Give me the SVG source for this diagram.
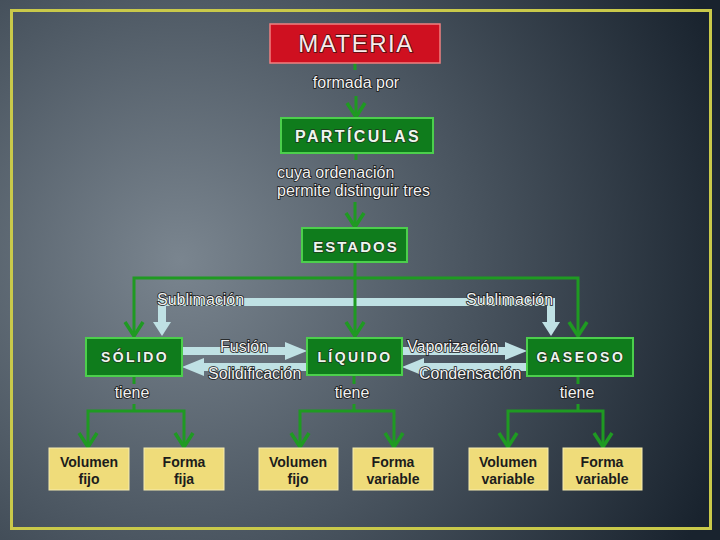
<svg xmlns="http://www.w3.org/2000/svg" width="720" height="540" viewBox="0 0 720 540">
  <defs>
    <radialGradient id="bg" gradientUnits="userSpaceOnUse" cx="180" cy="260" r="580">
      <stop offset="0" stop-color="#7a858f"/>
      <stop offset="0.5" stop-color="#4a5560"/>
      <stop offset="1" stop-color="#19232e"/>
    </radialGradient>
    <marker id="gv" markerUnits="userSpaceOnUse" viewBox="-17 -12 20 24" markerWidth="20" markerHeight="24" refX="0" refY="0" orient="auto-start-reverse">
      <path d="M-14,-9 L0,0 L-14,9" fill="none" stroke="#1f9a22" stroke-width="3.5" stroke-linejoin="miter"/>
    </marker>
    <marker id="lh" markerUnits="userSpaceOnUse" viewBox="0 -10 24 20" markerWidth="24" markerHeight="20" refX="0" refY="0" orient="auto-start-reverse">
      <path d="M0,-9 L22,0 L0,9 z" fill="#bfe1e4"/>
    </marker>
    <marker id="lv" markerUnits="userSpaceOnUse" viewBox="0 -10 16 20" markerWidth="16" markerHeight="20" refX="0" refY="0" orient="auto-start-reverse">
      <path d="M0,-9 L14,0 L0,9 z" fill="#bfe1e4"/>
    </marker>
    <style>
      .gbox { fill: #0f7c1c; stroke: #4ccf4c; stroke-width: 2; }
      .ybox { fill: #efdc7a; stroke: #f6ecb0; stroke-width: 1; }
      .title { font-family: "Liberation Sans", Arial, sans-serif; font-weight: bold; fill: #eef6ee; stroke: #1e3a1e; stroke-width: 1.6; paint-order: stroke fill; text-anchor: middle; }
      .lbl { font-family: "Liberation Sans", Arial, sans-serif; font-size: 16px; fill: #f2f2f2; stroke: #161616; stroke-width: 1.6; paint-order: stroke fill; }
      .ytxt { font-family: "Liberation Sans", Arial, sans-serif; font-weight: bold; font-size: 14px; fill: #1c1c1c; text-anchor: middle; }
      .gl { fill: none; stroke: #1f9a22; stroke-width: 3; }
      .ga { fill: none; stroke: #1f9a22; stroke-width: 3; marker-end: url(#gv); }
      .lb { fill: none; stroke: #bfe1e4; stroke-width: 8; }
    </style>
  </defs>

  <rect x="0" y="0" width="720" height="540" fill="url(#bg)"/>
  <rect x="11.5" y="10.5" width="699" height="518" fill="none" stroke="#c9c94a" stroke-width="3"/>

  <!-- light process arrows -->
  <g id="processes">
    <path class="lb" d="M162,322 L162,302 L551,302 L551,322" marker-start="url(#lv)" marker-end="url(#lv)"/>
    <path class="lb" d="M182,351 L285,351" marker-end="url(#lh)"/>
    <path class="lb" d="M307,367 L204,367" marker-end="url(#lh)"/>
    <path class="lb" d="M402,351 L505,351" marker-end="url(#lh)"/>
    <path class="lb" d="M527,367 L424,367" marker-end="url(#lh)"/>
    <text class="lbl" x="157" y="305">Sublimación</text>
    <text class="lbl" x="466" y="305">Sublimación</text>
    <text class="lbl" x="220" y="352">Fusión</text>
    <text class="lbl" x="208" y="379">Solidificación</text>
    <text class="lbl" x="407" y="352">Vaporización</text>
    <text class="lbl" x="419" y="379">Condensación</text>
  </g>

  <!-- connectors -->
  <g id="connectors">
    <path class="gl" d="M355,63 L355,70"/>
    <path class="ga" d="M356,96 L356,117"/>
    <path class="gl" d="M356,153 L356,160"/>
    <path class="ga" d="M355,202 L355,227"/>
    <path class="ga" d="M355,262 L355,336"/>
    <path class="ga" d="M355,278 L134,278 L134,336"/>
    <path class="ga" d="M355,278 L578,278 L578,336"/>

    <path class="gl" d="M134,376 L134,384"/>
    <path class="gl" d="M134,404 L134,411"/>
    <path class="ga" d="M134,411 L88,411 L88,447"/>
    <path class="ga" d="M134,411 L184,411 L184,447"/>

    <path class="gl" d="M354,375 L354,384"/>
    <path class="gl" d="M354,404 L354,411"/>
    <path class="ga" d="M354,411 L300,411 L300,447"/>
    <path class="ga" d="M354,411 L394,411 L394,447"/>

    <path class="gl" d="M578,376 L578,384"/>
    <path class="gl" d="M578,404 L578,411"/>
    <path class="ga" d="M578,411 L508,411 L508,447"/>
    <path class="ga" d="M578,411 L603,411 L603,447"/>

    <text class="lbl" x="356" y="88" text-anchor="middle">formada por</text>
    <text class="lbl" x="277" y="178">cuya ordenación</text>
    <text class="lbl" x="277" y="196">permite distinguir tres</text>
    <text class="lbl" x="132" y="398" text-anchor="middle">tiene</text>
    <text class="lbl" x="352" y="398" text-anchor="middle">tiene</text>
    <text class="lbl" x="577" y="398" text-anchor="middle">tiene</text>
  </g>

  <g id="materia">
    <rect x="270" y="24" width="170" height="39" fill="#cf1020" stroke="#f08080" stroke-width="1.5"/>
    <text x="356" y="52" font-family="Liberation Sans, Arial, sans-serif" font-size="24" letter-spacing="1.5" fill="#fbeaea" stroke="#4a1010" stroke-width="1.6" paint-order="stroke fill" text-anchor="middle">MATERIA</text>
  </g>
  <g id="particulas">
    <rect class="gbox" x="281" y="118" width="152" height="35"/>
    <text class="title" x="358" y="142" font-size="16" letter-spacing="2.4">PARTÍCULAS</text>
  </g>
  <g id="estados">
    <rect class="gbox" x="302" y="228" width="105" height="34"/>
    <text class="title" x="356" y="252" font-size="15" letter-spacing="2">ESTADOS</text>
  </g>
  <g id="solido">
    <rect class="gbox" x="86" y="338" width="96" height="38"/>
    <text class="title" x="135" y="362" font-size="14" letter-spacing="2.4">SÓLIDO</text>
  </g>
  <g id="liquido">
    <rect class="gbox" x="307" y="338" width="95" height="37"/>
    <text class="title" x="355" y="362" font-size="14" letter-spacing="2.4">LÍQUIDO</text>
  </g>
  <g id="gaseoso">
    <rect class="gbox" x="527" y="338" width="106" height="38"/>
    <text class="title" x="581" y="362" font-size="14" letter-spacing="2.6">GASEOSO</text>
  </g>

  <g id="s-volumen">
    <rect class="ybox" x="49" y="448" width="80" height="42"/>
    <text class="ytxt" x="89" y="467">Volumen</text>
    <text class="ytxt" x="89" y="484">fijo</text>
  </g>
  <g id="s-forma">
    <rect class="ybox" x="144" y="448" width="80" height="42"/>
    <text class="ytxt" x="184" y="467">Forma</text>
    <text class="ytxt" x="184" y="484">fija</text>
  </g>
  <g id="l-volumen">
    <rect class="ybox" x="259" y="448" width="79" height="42"/>
    <text class="ytxt" x="298" y="467">Volumen</text>
    <text class="ytxt" x="298" y="484">fijo</text>
  </g>
  <g id="l-forma">
    <rect class="ybox" x="353" y="448" width="80" height="42"/>
    <text class="ytxt" x="393" y="467">Forma</text>
    <text class="ytxt" x="393" y="484">variable</text>
  </g>
  <g id="g-volumen">
    <rect class="ybox" x="469" y="448" width="79" height="42"/>
    <text class="ytxt" x="508" y="467">Volumen</text>
    <text class="ytxt" x="508" y="484">variable</text>
  </g>
  <g id="g-forma">
    <rect class="ybox" x="563" y="448" width="79" height="42"/>
    <text class="ytxt" x="602" y="467">Forma</text>
    <text class="ytxt" x="602" y="484">variable</text>
  </g>
</svg>
